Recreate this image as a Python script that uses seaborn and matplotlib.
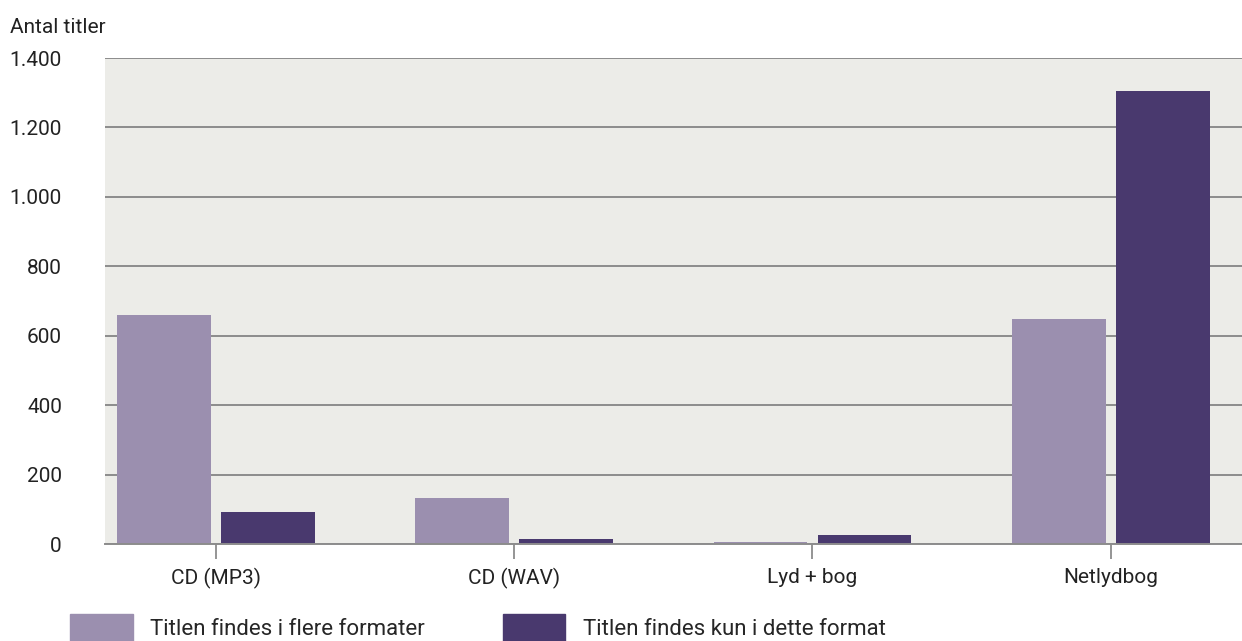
import matplotlib
matplotlib.use("Agg")
import matplotlib.pyplot as plt
import matplotlib.patches as mpatches
import seaborn as sns
import pandas as pd

categories = ["CD (MP3)", "CD (WAV)", "Lyd + bog", "Netlydbog"]
series_names = ["Titlen findes i flere formater", "Titlen findes kun i dette format"]
flere_formater = [660, 132, 6, 648]
kun_dette = [92, 14, 26, 1305]
y_ticks = [0, 200, 400, 600, 800, 1000, 1200, 1400]
y_label = "Antal titler"

colors = ["#9b8faf", "#49396e"]

df = pd.DataFrame({
    "format": categories * 2,
    "serie": [series_names[0]] * 4 + [series_names[1]] * 4,
    "antal": flere_formater + kun_dette,
})

sns.set_theme(style="white")
plt.rcParams["font.family"] = ["Roboto", "DejaVu Sans"]

fig = plt.figure(figsize=(12.42, 6.41), dpi=100)
ax = fig.add_axes([0.0845, 0.1513, 0.9155, 0.7582])
ax.set_facecolor("#ecece8")

sns.barplot(data=df, x="format", y="antal", hue="serie", palette=colors,
            width=0.698, gap=0.1, saturation=1, linewidth=0, ax=ax,
            legend=False, zorder=3)

ax.set_ylim(0, 1400)
ax.set_xlim(-0.372, 3.44)
ax.set_yticks(y_ticks)
ax.set_yticklabels([f"{v:,}".replace(",", ".") for v in y_ticks], fontsize=15, color="#222222")
ax.yaxis.grid(True, color="#8c8c8c", linewidth=1.4, zorder=0)
ax.set_axisbelow(True)
ax.tick_params(axis="y", left=False, length=0, pad=31)
ax.tick_params(axis="x", bottom=True, length=11, width=1.3, color="#8c8c8c",
               labelsize=15, labelcolor="#222222", pad=6)
ax.set_xlabel("")
ax.set_ylabel("")
for s in ["left", "right", "top"]:
    ax.spines[s].set_visible(False)
ax.spines["bottom"].set_color("#8c8c8c")
ax.spines["bottom"].set_linewidth(1.4)
ax.spines["bottom"].set_zorder(4)

fig.text(0.008, 0.957, y_label, fontsize=15, color="#222222", va="center")

handles = [mpatches.Patch(color=c, label=n) for c, n in zip(colors, series_names)]
fig.legend(handles=handles, loc="lower left", bbox_to_anchor=(0.0495, -0.014), ncol=2,
           frameon=False, fontsize=16, handlelength=2.8, handleheight=1.5,
           handletextpad=0.8, columnspacing=3.5, borderaxespad=0)

fig.savefig("out.png", dpi=100)
